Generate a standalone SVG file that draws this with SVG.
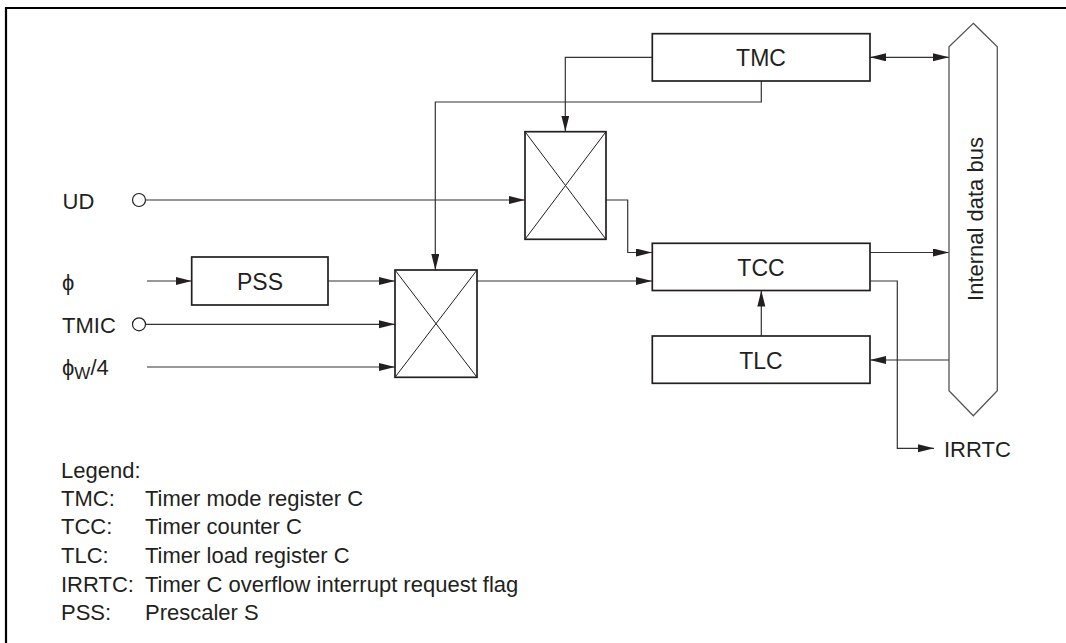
<svg xmlns="http://www.w3.org/2000/svg" width="1066" height="643" viewBox="0 0 1066 643">
<defs>
<marker id="arr" markerUnits="userSpaceOnUse" markerWidth="17" markerHeight="9" refX="16" refY="4" orient="auto">
<path d="M0,0 L16,4 L0,8 z" fill="#231f20"/>
</marker>
<marker id="arrs" markerUnits="userSpaceOnUse" markerWidth="17" markerHeight="9" refX="16" refY="4" orient="auto-start-reverse">
<path d="M0,0 L16,4 L0,8 z" fill="#231f20"/>
</marker>
</defs>
<style>
text{font-family:"Liberation Sans",Arial,sans-serif;font-size:22px;fill:#231f20}
.lbl{font-size:23px}
.box{fill:#fff;stroke:#231f20;stroke-width:1.7}
.mux{fill:#fff;stroke:#231f20;stroke-width:1.7}
.diag{stroke:#231f20;stroke-width:1;fill:none}
.c{fill:none;stroke:#333;stroke-width:1.2}
.a{marker-end:url(#arr)}
.pin{fill:#fff;stroke:#231f20;stroke-width:1.2}
.mid{text-anchor:middle}
</style>
<rect width="1066" height="643" fill="#fff"/>
<path d="M6,643 V8 H1066" fill="none" stroke="#000" stroke-width="2.2"/>

<g id="connectors">
<path class="c a" d="M652,57.3 H565.3 V131.5"/>
<path class="c a" d="M761.3,81 V102 H435.3 V270"/>
<path class="c a" d="M145.5,200 H525"/>
<path class="c a" d="M606,200 H627.7 V252.5 H652"/>
<path class="c a" d="M147,281 H191.7"/>
<path class="c a" d="M328,281 H395"/>
<path class="c a" d="M145.5,324.3 H395"/>
<path class="c a" d="M147,367 H395"/>
<path class="c a" d="M477,281 H652"/>
<path class="c a" d="M870,252.5 H949"/>
<path class="c a" d="M870,281 H897.3 V448.3 H934"/>
<path class="c a" d="M949,360 H870"/>
<path class="c a" d="M761.3,336 V290.5"/>
<path class="c" d="M870,57.3 H949" marker-start="url(#arrs)" marker-end="url(#arrs)"/>
</g>

<g id="TMC"><rect class="box" x="652.3" y="33.7" width="217.7" height="47.3"/><text class="mid lbl" x="761" y="65.5">TMC</text></g>
<g id="TCC"><rect class="box" x="652.3" y="243.3" width="217.7" height="47.2"/><text class="mid lbl" x="761" y="275.5">TCC</text></g>
<g id="TLC"><rect class="box" x="652.3" y="336" width="217.7" height="47.3"/><text class="mid lbl" x="761" y="368.5">TLC</text></g>
<g id="PSS"><rect class="box" x="191.7" y="257" width="136.3" height="48"/><text class="mid lbl" x="260" y="289.5">PSS</text></g>
<g id="mux1"><rect class="mux" x="525" y="131.7" width="81" height="107.6"/><path class="diag" d="M525,131.7 L606,239.3 M606,131.7 L525,239.3"/></g>
<g id="mux2"><rect class="mux" x="395" y="270" width="82" height="107.3"/><path class="diag" d="M395,270 L477,377.3 M477,270 L395,377.3"/></g>
<g id="bus"><polygon points="973.3,23.3 997.3,46.7 997.3,390.7 973.3,415.7 949,390.7 949,46.7" fill="#fff" stroke="#555" stroke-width="1.3"/><text class="mid" font-size="23.5" transform="translate(982.5,219) rotate(-90)">Internal data bus</text></g>

<g id="UD"><text x="62.5" y="209">UD</text><circle class="pin" cx="139" cy="200" r="6.5"/></g>
<g id="phi"><text x="62" y="290">ϕ</text></g>
<g id="TMIC"><text x="62" y="333">TMIC</text><circle class="pin" cx="139" cy="324.3" r="6.5"/></g>
<g id="phiw4"><text x="62" y="375">ϕ<tspan font-size="17" dy="4">W</tspan><tspan dy="-4">/4</tspan></text></g>
<g id="IRRTC"><text x="944" y="456.5">IRRTC</text></g>

<g id="legend">
<text x="61" y="477.7">Legend:</text>
<text x="61" y="506">TMC:</text><text x="145" y="506">Timer mode register C</text>
<text x="61" y="534.3">TCC:</text><text x="145" y="534.3">Timer counter C</text>
<text x="61" y="562.7">TLC:</text><text x="145" y="562.7">Timer load register C</text>
<text x="61" y="591.5">IRRTC:</text><text x="145" y="591.5">Timer C overflow interrupt request flag</text>
<text x="61" y="620">PSS:</text><text x="145" y="620">Prescaler S</text>
</g>
</svg>
